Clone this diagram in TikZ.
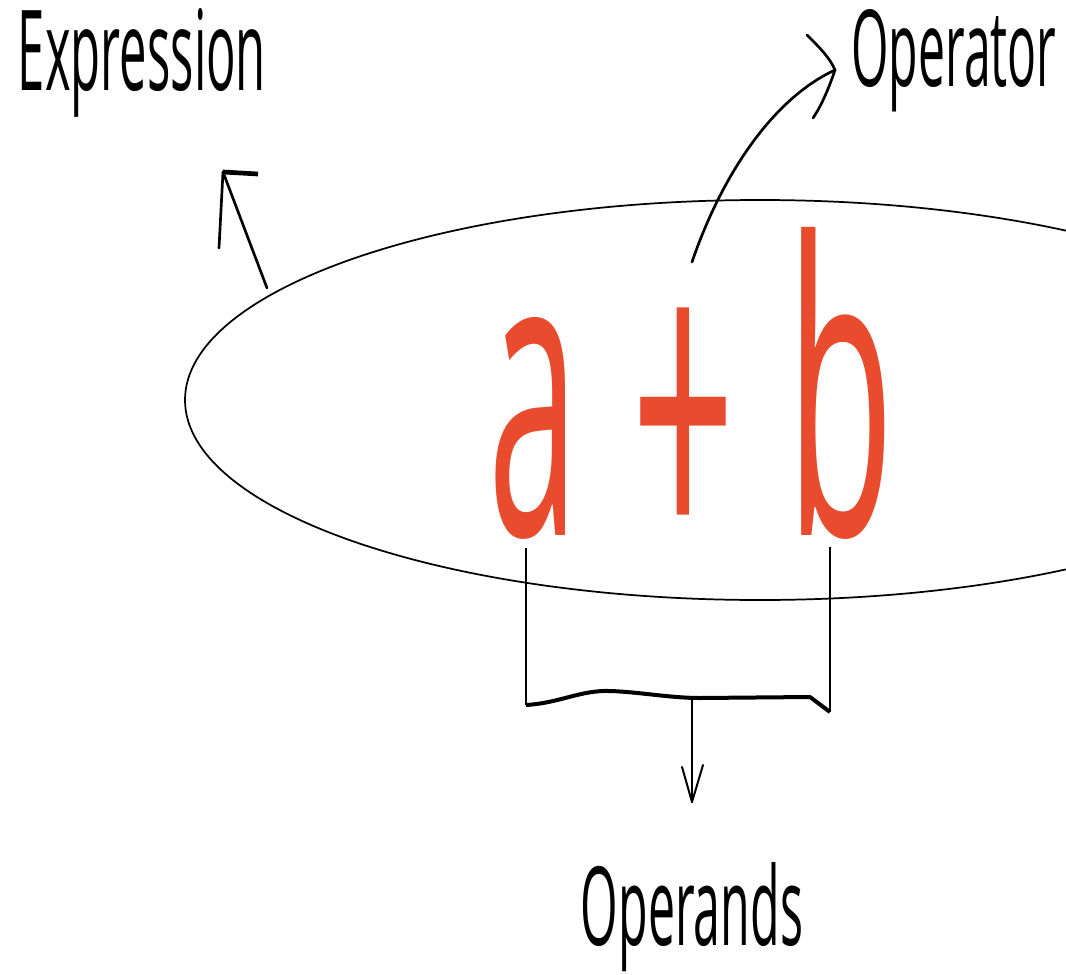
\documentclass[tikz,border=0pt]{standalone}
\usepackage{fontspec}
\setmainfont{Open Sans}
\usepackage{graphicx}
\usetikzlibrary{shapes.geometric}
\definecolor{opred}{HTML}{E94B2E}
\newdimen\pxu \pxu=0.75pt
\newcommand\fitpx[3]{\resizebox{#1\pxu}{#2\pxu}{#3}}
\tikzset{
  txt/.style={inner sep=0pt, outer sep=0pt, anchor=base},
  redtxt/.style={txt, text=opred},
  thinline/.style={line width=1.3pt, line cap=round, line join=round},
  penline/.style={line width=2pt, line cap=round, line join=round},
}
\begin{document}
\begin{tikzpicture}[x=0.75pt,y=-0.75pt]
\useasboundingbox (0,0) rectangle (1066,974);
\clip (0,0) rectangle (1066,974);
\fill[white] (0,0) rectangle (1066,974);
% ellipse
\node[draw, ellipse, thinline, inner sep=0pt, minimum width=862.5pt, minimum height=300pt] (ell) at (760,400) {};
% labels
\node[txt] (expr) at (142,90) {\fitpx{248}{82}{Expression}};
\node[txt] (oper) at (954,87) {\fitpx{205}{77}{Operator}};
\node[txt] (opds) at (692,945) {\fitpx{222}{83}{Operands}};
% red expression
\node[redtxt] (a) at (534,535) {\fitpx{90}{218}{a}};
\node[redtxt, anchor=center] (plus) at (684,435.5) {\fitpx{104}{254}{+}};
\node[redtxt] (b) at (841,535) {\fitpx{108}{308}{b}};
% Expression arrow
\coordinate (etail) at (267,288);
\coordinate (etip) at (223,172);
\draw[penline] (etail) -- (etip);
\draw[penline] (219,248) -- (etip);
\draw[line width=3.5pt] (etip) -- (258,174);
% Operator arrow
\coordinate (otail) at (692,262);
\coordinate (otip) at (835,70);
\draw[penline] (otail) .. controls (720,180) and (770,100) .. (otip);
\draw[penline] (807,35) .. controls (820,48) and (830,58) .. (otip) .. controls (830,85) and (822,105) .. (813,118);
% Operands bracket
\coordinate (bl) at (526,548);
\coordinate (br) at (830,547);
\draw[line width=1.5pt] (bl) -- (526,705);
\draw[line width=1.5pt] (br) -- (830,712);
\draw[line width=3pt, line join=round] (526,705) .. controls (560,703) and (580,690) .. (610,691)
  .. controls (640,692) and (670,698) .. (700,698) -- (810,697) -- (830,712);
\coordinate (dtop) at (692,698);
\coordinate (dtip) at (692,802);
\draw[thinline, line width=1.5pt] (dtop) -- (dtip);
\draw[thinline, line width=1.5pt] (682,767) -- (dtip) -- (703,765);
\end{tikzpicture}
\end{document}
